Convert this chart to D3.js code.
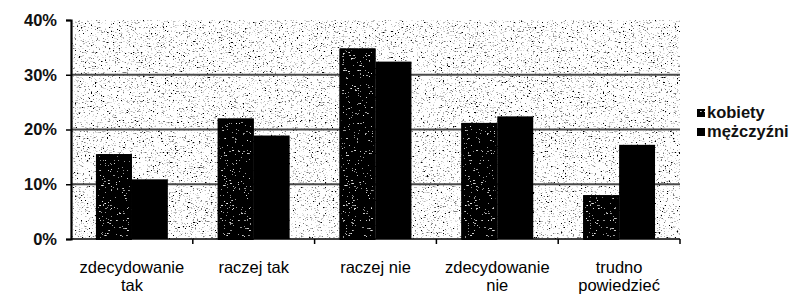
<!DOCTYPE html>
<html>
<head>
<meta charset="utf-8">
<script src="https://cdn.jsdelivr.net/npm/d3@7"></script>
<style>
  body { margin: 0; background: #fff; }
  svg { display: block; font-family: "Liberation Sans", Arial, sans-serif; }
</style>
</head>
<body>
<div id="chart"></div>
<script>
// data
const categories = [["zdecydowanie", "tak"], ["raczej tak"], ["raczej nie"], ["zdecydowanie", "nie"], ["trudno", "powiedzieć"]];
const seriesNames = ["kobiety", "mężczyźni"];
const kobiety = [15.5, 22.0, 34.8, 21.2, 8.0];
const mezczyzni = [10.9, 18.9, 32.4, 22.4, 17.2];
const yTicks = [0, 10, 20, 30, 40];

const W = 796, H = 295;
const margin = {top: 20, right: 116, bottom: 56, left: 71};

const svg = d3.select("#chart").append("svg")
    .attr("width", W)
    .attr("height", H);

const defs = svg.append("defs");

// builds a noise filter, table maps noise level -> grey
function speckleFilter(id, freq, seed, table) {
    const f = defs.append("filter").attr("id", id)
        .attr("x", 0).attr("y", 0).attr("width", 1).attr("height", 1);
    f.append("feTurbulence")
        .attr("type", "fractalNoise").attr("baseFrequency", freq)
        .attr("numOctaves", 2).attr("seed", seed).attr("result", "noise");
    f.append("feColorMatrix").attr("in", "noise").attr("type", "matrix")
        .attr("values", "1 0 0 0 0  1 0 0 0 0  1 0 0 0 0  0 0 0 0 1").attr("result", "gray");
    const ct = f.append("feComponentTransfer").attr("in", "gray").attr("result", "dots");
    ["feFuncR", "feFuncG", "feFuncB"].forEach(fn =>
        ct.append(fn).attr("type", "discrete").attr("tableValues", table.join(" ")));
    f.append("feComposite").attr("in", "dots").attr("in2", "SourceGraphic").attr("operator", "in");
}

// plot background: light, scan-like speckle
speckleFilter("speckle", "0.5 1.2", 4,
    [0, 0, 0, 0, 0, 0.2, 0.5, 0.75, 1, 1, 1, 1, 1, 1, 1, 1, 1, 1, 1, 1]);
// first series: black with light flecks
speckleFilter("darkspeckle", "0.35 1.4", 9,
    [1, 1, 1, 0.8, 0.6, 0.3, 0, 0, 0, 0, 0, 0, 0, 0, 0, 0, 0, 0.3, 0.6, 0.9]);

const innerW = W - margin.left - margin.right;
const innerH = H - margin.top - margin.bottom;

const g = svg.append("g").attr("transform", `translate(${margin.left},${margin.top})`);

const x = d3.scaleBand()
    .domain(d3.range(categories.length))
    .range([0, innerW])
    .paddingInner(0.41)
    .paddingOuter(0.205);

const xSeries = d3.scaleBand()
    .domain(seriesNames)
    .range([0, x.bandwidth()]);

const y = d3.scaleLinear().domain([0, 40]).range([innerH, 0]);

// background
g.append("rect")
    .attr("width", innerW).attr("height", innerH)
    .attr("fill", "#fff")
    .attr("filter", "url(#speckle)");

// gridlines
g.selectAll(".grid")
    .data(yTicks.filter(d => d > 0 && d < 40))
    .join("line")
    .attr("class", "grid")
    .attr("x1", 0).attr("x2", innerW)
    .attr("y1", d => y(d)).attr("y2", d => y(d))
    .attr("stroke", "#4a4a4a").attr("stroke-width", 1.8);

// bars
const rows = categories.map((c, i) => ({i, values: [kobiety[i], mezczyzni[i]]}));
const groups = g.selectAll(".cat")
    .data(rows)
    .join("g")
    .attr("class", "cat")
    .attr("transform", d => `translate(${x(d.i)},0)`);

groups.selectAll("rect")
    .data(d => d.values.map((v, k) => ({name: seriesNames[k], v})))
    .join("rect")
    .attr("x", d => xSeries(d.name))
    .attr("y", d => y(d.v))
    .attr("width", xSeries.bandwidth())
    .attr("height", d => y(0) - y(d.v))
    .attr("fill", "#000")
    .attr("filter", d => d.name === "kobiety" ? "url(#darkspeckle)" : null);

// outline for the textured bars
groups.selectAll(".outline")
    .data(d => [{name: seriesNames[0], v: d.values[0]}])
    .join("rect")
    .attr("class", "outline")
    .attr("x", d => xSeries(d.name) + 1)
    .attr("y", d => y(d.v) + 1)
    .attr("width", xSeries.bandwidth() - 2)
    .attr("height", d => y(0) - y(d.v) - 1)
    .attr("fill", "none")
    .attr("stroke", "#000")
    .attr("stroke-width", 2);

// y axis
const yAxis = g.append("g")
    .call(d3.axisLeft(y).tickValues(yTicks).tickFormat(d => d + "%").tickSize(5).tickPadding(9));
yAxis.select(".domain").attr("stroke", "#000").attr("stroke-width", 2.2);
yAxis.selectAll(".tick line").attr("stroke", "#000").attr("stroke-width", 1.5);
yAxis.selectAll(".tick text")
    .attr("font-size", 16.5).attr("font-weight", "bold").attr("fill", "#111")
    .attr("font-family", "'Liberation Sans', Arial, sans-serif");

// x axis line + ticks at category boundaries
const step = innerW / categories.length;
const xAxisG = g.append("g").attr("transform", `translate(0,${innerH})`);
xAxisG.append("line")
    .attr("x1", 0).attr("x2", innerW)
    .attr("stroke", "#000").attr("stroke-width", 1.6);
xAxisG.selectAll(".xt")
    .data(d3.range(1, categories.length + 1))
    .join("line")
    .attr("class", "xt")
    .attr("x1", d => d * step).attr("x2", d => d * step)
    .attr("y1", 0).attr("y2", 5)
    .attr("stroke", "#000").attr("stroke-width", 1.5);

// category labels
const labels = xAxisG.selectAll(".xl")
    .data(rows)
    .join("text")
    .attr("class", "xl")
    .attr("x", d => x(d.i) + x.bandwidth() / 2)
    .attr("y", 34)
    .attr("text-anchor", "middle")
    .attr("font-size", 16.5)
    .attr("fill", "#000");
labels.selectAll("tspan")
    .data(d => categories[d.i])
    .join("tspan")
    .attr("x", function() { return d3.select(this.parentNode).attr("x"); })
    .attr("dy", (d, k) => k === 0 ? 0 : 18)
    .text(d => d);

// legend
const legend = svg.append("g").attr("transform", "translate(697,109)");
const lg = legend.selectAll(".lg")
    .data(seriesNames)
    .join("g")
    .attr("class", "lg")
    .attr("transform", (d, i) => `translate(0,${i * 19})`);
lg.append("rect")
    .attr("width", 8).attr("height", 8)
    .attr("fill", "#000")
    .attr("filter", d => d === "kobiety" ? "url(#darkspeckle)" : null);
lg.append("text")
    .attr("x", 10).attr("y", 9)
    .attr("font-size", 16.5).attr("font-weight", "bold").attr("fill", "#111")
    .text(d => d);
</script>
</body>
</html>
